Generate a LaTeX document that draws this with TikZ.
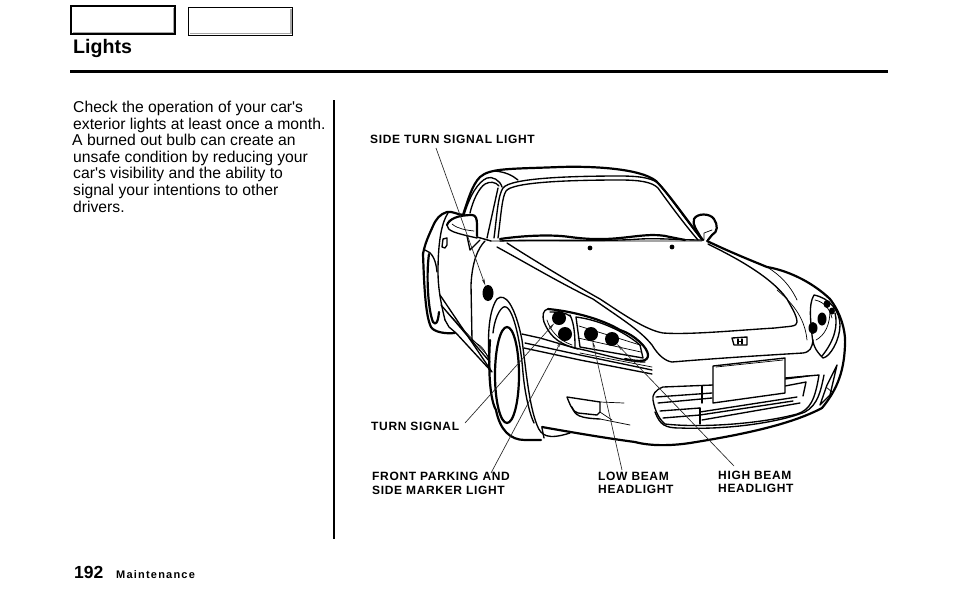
\documentclass[tikz,border=0pt]{standalone}
\usepackage{fontspec}
\usetikzlibrary{arrows.meta,shapes.geometric}
\newfontfamily\bodyfont{Liberation Sans}
\newfontfamily\lblfont[LetterSpace=5.5]{Liberation Sans}
\newfontfamily\mntfont[LetterSpace=11]{Liberation Sans}
\tikzset{
 thick line/.style={line width=2.2pt,line cap=round,line join=round},
 mid line/.style={line width=1.35pt,line cap=round,line join=round},
 thin line/.style={line width=0.7pt,line cap=round,line join=round},
 leader/.style={line width=0.65pt,draw=black!85,-{Stealth[length=7pt,width=2.6pt]}},
 lamp/.style={circle,fill=black,inner sep=0pt,minimum size=14pt},
 body/.style={anchor=base west,inner sep=0pt,font=\bodyfont\fontsize{15.7}{17}\selectfont},
 lbl/.style={anchor=base west,inner sep=0pt,font=\lblfont\bfseries\fontsize{12}{13}\selectfont}
}
\begin{document}
\begin{tikzpicture}[x=1pt,y=-1pt]
\useasboundingbox (0,0) rectangle (954,614);
\fill[white] (0,0) rectangle (954,614);
% header
\draw[black!35,line width=1.2pt] (173.5,8) -- (173.5,32.5) -- (72.5,32.5);
\draw[black,line width=1.6pt] (71,6) rectangle (175,34);
\draw[black!35,line width=1.2pt] (291,9) -- (291,33.5) -- (189.5,33.5);
\draw[black,line width=0.8pt] (188,7) rectangle (292,35);
\node[anchor=base west,inner sep=0pt,font=\bodyfont\bfseries\fontsize{19.6}{24}\selectfont] (title) at (73,53) {Lights};
\draw[line width=2.2pt] (70,71.5) -- (888,71.5);
\draw[line width=1.2pt] (334,100) -- (334,539);
% text
\node[body] (t1) at (73,112) {Check the operation of your car's};
\node[body] (t2) at (73,129) {exterior lights at least once a month.};
\node[body] (t3) at (72,145) {A burned out bulb can create an};
\node[body] (t4) at (73,162) {unsafe condition by reducing your};
\node[body] (t5) at (73,178) {car's visibility and the ability to};
\node[body] (t6) at (73,195) {signal your intentions to other};
\node[body] (t7) at (73,212) {drivers.};
\node[anchor=base west,inner sep=0pt,font=\bodyfont\bfseries\fontsize{17.5}{20}\selectfont] (pg) at (74,578) {192};
\node[anchor=base west,inner sep=0pt,font=\mntfont\bfseries\fontsize{11}{12}\selectfont] (mt) at (116,578) {Maintenance};
% roof and windshield
\draw[thick line] (463,215) .. controls (468,200) and (472,185) .. (480,177) .. controls (490,168) and (510,169) .. (560,167) .. controls (590,166) and (640,168) .. (656,181) .. controls (670,195) and (690,225) .. (703,240);
\draw[mid line] (494,238) .. controls (497,215) and (498,195) .. (503,188) .. controls (510,178) and (570,176) .. (620,176) .. controls (640,176) and (655,178) .. (661,186) .. controls (672,200) and (690,225) .. (702,240);
\draw[mid line] (498,238) .. controls (501,215) and (502,197) .. (506,191) .. controls (512,182) and (570,180) .. (620,180) .. controls (640,180) and (652,182) .. (658,188) .. controls (668,202) and (685,225) .. (698,240);
\draw[mid line] (464,215) .. controls (470,195) and (478,182) .. (487,178) .. controls (492,176) and (500,180) .. (502,187);
\draw[mid line] (470,213) .. controls (473,200) and (479,188) .. (485,184) .. controls (490,181) and (496,182) .. (499,186);
\draw[mid line] (495,171) .. controls (505,172) and (512,175) .. (518,180);
\draw[mid line] (498,188) -- (487,238);
% cowl and wipers
\draw[thick line] (500,239) .. controls (520,236) and (550,234) .. (570,237) .. controls (585,239) and (600,240) .. (620,238) .. controls (640,236) and (655,233) .. (670,237) -- (685,240);
\draw[mid line] (500,241) .. controls (540,239) and (600,242) .. (640,239) .. controls (660,238) and (680,240) .. (702,240);
\draw[thin line] (477,237) -- (491,241) -- (702,241);
\fill (590,248) circle (2.4) (672,247) circle (2.4);
% right mirror
\draw[thick line] (701,238) .. controls (697,230) and (692,225) .. (694,219) .. controls (697,213) and (710,213) .. (714,219) .. controls (718,225) and (718,232) .. (712,235) -- (708,240);
\draw[thin line] (704,233) -- (712,230) (704,233) -- (704,240);
% left mirror
\draw[thick line] (447,225) .. controls (449,219) and (458,215) .. (472,215) .. controls (476,215) and (477,219) .. (477,225) -- (477,236);
\draw[mid line] (447,225) .. controls (447,231) and (455,233) .. (477,238);
\draw[thin line] (452,224) .. controls (458,229) and (466,230) .. (474,231);
\draw[mid line] (467,236) -- (470,250) -- (480,240);
\draw[mid line] (477,237) -- (491,241);
% far fender
\draw[thick line] (463,215) .. controls (456,214) and (452,211) .. (447,212) .. controls (440,214) and (436,219) .. (433,226) .. controls (429,235) and (425,243) .. (423,254);
\draw[mid line] (448,213) .. controls (442,222) and (438,240) .. (438,272) .. controls (438,285) and (440,300) .. (445,320);
\draw[mid line] (447,238) -- (447,245) -- (445,248) -- (442,247) -- (443,239) -- cycle;
% far wheel
\draw[thick line] (423,254) .. controls (424,280) and (425,315) .. (431,327) .. controls (434,332) and (445,334) .. (455,333);
\draw[thick line] (429,254) .. controls (426,275) and (428,310) .. (433,322) .. controls (436,326) and (438,322) .. (439,312);
\draw[mid line] (425,250) .. controls (432,252) and (436,260) .. (437,272);
% sills and door
\draw[mid line] (440,295) -- (492,372);
\draw[mid line] (441,305) -- (490,362);
\draw[thin line] (447,312) -- (490,358);
\draw[mid line] (445,320) -- (449,327) -- (456,333) -- (491,371);
% front fender
\draw[mid line] (485,241) .. controls (478,248) and (472,262) .. (471,285) -- (472,340);
\draw[thin line] (472,340) .. controls (478,345) and (483,345) .. (488,358);
% front wheel arch and tyre
\draw[mid line] (490,372) .. controls (487,340) and (488,312) .. (497,299) .. controls (505,292) and (515,305) .. (522,340) .. controls (526,370) and (529,405) .. (537,425) .. controls (541,436) and (548,440) .. (570,433);
\draw[mid line] (493,333) .. controls (495,315) and (502,305) .. (506,307) .. controls (514,310) and (521,345) .. (523,373) .. controls (525,395) and (530,415) .. (534,423);
\draw[thick line] (490,340) .. controls (488,370) and (490,400) .. (496,410) .. controls (500,430) and (510,440) .. (525,440) -- (541,440);
\draw[thick line] (507,375) ellipse (12 and 48);
\draw[mid line] (542,428) -- (544,438);
% hood
\draw[thick line] (707,241) .. controls (730,252) and (750,260) .. (767,267) .. controls (785,270) and (810,280) .. (830,299);
\draw[mid line] (708,244) .. controls (730,255) and (770,275) .. (787,299) .. controls (790,305) and (797,315) .. (797,322) .. controls (797,327) and (790,326) .. (775,328) .. controls (740,330) and (690,335) .. (663,333) .. controls (645,330) and (620,312) .. (600,299) .. controls (575,285) and (530,258) .. (507,243);
\draw[thin line] (767,267) .. controls (780,275) and (790,285) .. (797,300);
\draw[mid line] (497,247) .. controls (530,265) and (560,283) .. (593,299) .. controls (620,318) and (640,330) .. (652,345) .. controls (658,355) and (665,361) .. (672,362) .. controls (720,358) and (770,355) .. (803,353) .. controls (810,352) and (812,348) .. (813,340);
\draw[thin line] (777,290) .. controls (795,305) and (805,320) .. (807,340);
% body right edge and lower bumper
\draw[thick line] (830,299) .. controls (840,312) and (846,330) .. (845,345) .. controls (844,375) and (835,392) .. (822,408) .. controls (790,425) and (740,435) .. (690,443) .. controls (670,446) and (650,446) .. (635,442) .. controls (605,438) and (570,432) .. (542,427);
% right headlight
\draw[mid line] (814,295) .. controls (808,305) and (811,322) .. (812,335) .. controls (813,345) and (815,350) .. (823,358) .. controls (830,357) and (840,340) .. (840,325) .. controls (840,312) and (830,298) .. (814,295);
\draw[mid line] (822,356) .. controls (835,340) and (838,325) .. (835,313);
\draw[thin line] (815,300) .. controls (825,302) and (830,310) .. (832,318);
\draw[thin line] (816,340) .. controls (825,335) and (830,325) .. (830,310);
\fill (813,328) ellipse (4.5 and 6);
\fill (822,319) ellipse (4.5 and 6.5);
\fill (827,304) ellipse (3.5 and 4);
\fill (832,311) ellipse (3 and 3.5);
% right side marker
\draw[mid line] (837,365) -- (827,385) -- (820,405) -- (830,395) -- cycle;
\draw[thin line] (826,387) -- (832,392);
% left headlight
\draw[thick line] (548,309) .. controls (570,311) and (600,318) .. (620,330) .. controls (635,335) and (648,348) .. (648,355) .. controls (648,362) and (640,362) .. (625,359);
\draw[mid line] (548,309) .. controls (543,310) and (542,315) .. (544,322) .. controls (548,332) and (555,343) .. (575,348) .. controls (600,353) and (625,362) .. (645,362);
\draw[mid line] (570,315) .. controls (575,325) and (575,340) .. (575,348);
\draw[mid line] (550,312) .. controls (560,312) and (566,313) .. (570,316);
\draw[thin line] (547,320) .. controls (550,330) and (558,340) .. (572,345);
\draw[mid line] (576,317) .. controls (600,320) and (625,332) .. (640,345) -- (643,358) -- (580,347) -- cycle;
\draw[thin line] (579,326) -- (640,345) (578,338) -- (641,352);
% bumper lines
\draw[mid line] (522,334) -- (540,338) -- (578,349);
\draw[mid line] (525,343) -- (580,355) -- (652,370);
\draw[mid line] (524,348) -- (580,360) -- (652,374);
\draw[thin line] (580,353) -- (652,367);
% fog lamp
\draw[mid line] (567,397) -- (600,402) -- (600,412) -- (597,415) -- (578,413) .. controls (573,412) and (570,405) .. (567,397);
\draw[mid line] (572,407) .. controls (575,416) and (580,418) .. (600,419);
\draw[thin line] (600,402) -- (624,403) (600,412) -- (612,420) (600,419) -- (630,425);
% emblem
\draw[mid line] (732,338) -- (747,337) -- (747,345) -- (734,345) -- cycle;
\draw[mid line] (738,339) -- (738,344) (742,339) -- (742,344) (738,341.5) -- (742,341.5);
% grille
\draw[mid line] (713,385) -- (663,387) .. controls (655,390) and (652,395) .. (653,400) .. controls (655,412) and (660,420) .. (665,424) .. controls (700,428) and (760,424) .. (797,414) .. controls (810,410) and (815,400) .. (819,375) -- (785,378);
\draw[mid line] (655,412) .. controls (660,425) and (665,428) .. (680,428) .. controls (730,430) and (780,422) .. (805,412) .. controls (818,405) and (821,390) .. (824,375);
\draw[mid line] (656,397) -- (712,393) (658,403) -- (712,398) (660,411) -- (700,408) (663,418) -- (700,415) (700,412) -- (797,397) (700,415) -- (793,401) (702,420) -- (800,403);
\draw[mid line] (700,408) -- (700,424) (702,386) -- (702,403);
\draw[mid line] (785,379) -- (808,376) (785,386) -- (806,382) -- (803,396);
% licence plate
\draw[mid line,fill=white] (713,366) -- (785,358) -- (785,393) -- (713,403) -- cycle;
\draw[thin line] (716,367) -- (783,360);
% lamps
\node[lamp] (l1) at (559,318) {};
\node[lamp] (l2) at (565,334) {};
\node[lamp] (l3) at (591,334) {};
\node[lamp] (l4) at (612,339) {};
\node[fill=black,ellipse,inner sep=0pt,minimum width=11pt,minimum height=16pt] (l0) at (488,293) {};
% labels
\node[lbl] (a) at (370,143) {SIDE TURN SIGNAL LIGHT};
\node[lbl] (b) at (371,430) {TURN SIGNAL};
\node[lbl] (c) at (372,480) {FRONT PARKING AND};
\node[lbl] (c2) at (372,494) {SIDE MARKER LIGHT};
\node[lbl] (d) at (598,480) {LOW BEAM};
\node[lbl] (d2) at (598,493) {HEADLIGHT};
\node[lbl] (e) at (718,479) {HIGH BEAM};
\node[lbl] (e2) at (718,492) {HEADLIGHT};
% leaders
\coordinate (ca) at (436,148);
\coordinate (cb) at (465,423);
\coordinate (cc) at (491,473);
\coordinate (cd) at (622,470);
\coordinate (ce) at (734,466);
\draw[leader] (ca) -- (l0);
\draw[leader] (cb) -- (l1);
\draw[leader] (cc) -- (l2);
\draw[leader] (cd) -- (l3);
\draw[leader] (ce) -- (l4);
\end{tikzpicture}
\end{document}
